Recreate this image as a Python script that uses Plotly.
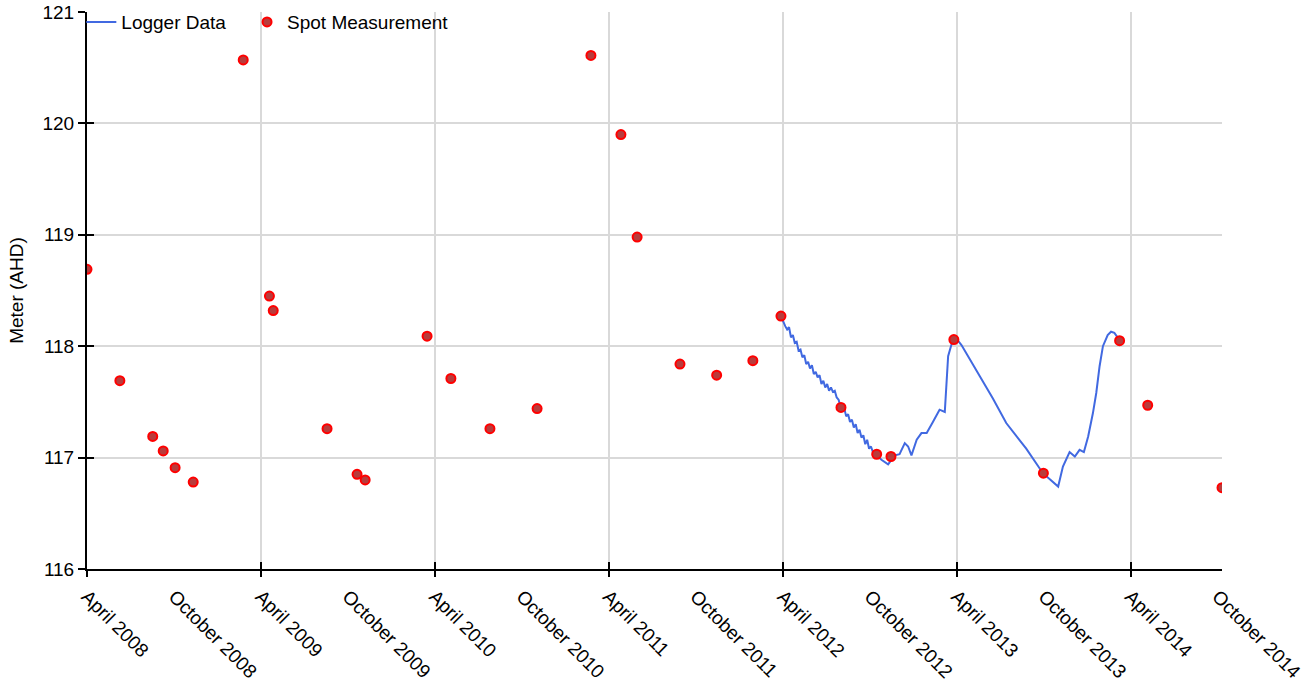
import plotly.graph_objects as go

# ---------------- data ----------------
spot_dates = [
    "2008-04-01", "2008-06-09", "2008-08-17", "2008-09-08", "2008-10-03", "2008-11-10",
    "2009-02-23", "2009-04-19", "2009-04-27", "2009-08-18", "2009-10-20", "2009-11-06",
    "2010-03-16", "2010-05-05", "2010-07-26", "2010-11-02", "2011-02-23", "2011-04-27",
    "2011-05-31", "2011-08-29", "2011-11-14", "2012-01-29", "2012-03-28", "2012-08-01",
    "2012-10-15", "2012-11-14", "2013-03-26", "2013-09-30", "2014-03-09", "2014-05-07",
    "2014-10-10",
]
spot_values = [
    118.69, 117.69, 117.19, 117.06, 116.91, 116.78,
    120.57, 118.45, 118.32, 117.26, 116.85, 116.80,
    118.09, 117.71, 117.26, 117.44, 120.61, 119.90,
    118.98, 117.84, 117.74, 117.87, 118.27, 117.45,
    117.03, 117.01, 118.06, 116.86, 118.05, 117.47,
    116.73,
]

logger_dates = [
    "2012-03-28", "2012-04-02", "2012-04-06", "2012-04-10", "2012-04-14", "2012-04-18",
    "2012-04-22", "2012-04-26", "2012-04-30", "2012-05-04", "2012-05-08", "2012-05-12",
    "2012-05-16", "2012-05-20", "2012-05-24", "2012-05-28", "2012-06-01", "2012-06-05",
    "2012-06-09", "2012-06-13", "2012-06-17", "2012-06-21", "2012-06-25", "2012-06-29",
    "2012-07-03", "2012-07-07", "2012-07-11", "2012-07-15", "2012-07-19", "2012-07-23",
    "2012-07-27", "2012-07-31", "2012-08-04", "2012-08-08", "2012-08-12", "2012-08-16",
    "2012-08-20", "2012-08-24", "2012-08-28", "2012-09-01", "2012-09-05", "2012-09-09",
    "2012-09-13", "2012-09-17", "2012-09-21", "2012-09-25", "2012-09-29", "2012-10-03",
    "2012-10-07", "2012-10-11", "2012-10-15", "2012-10-25", "2012-11-08", "2012-11-22",
    "2012-12-02", "2012-12-13", "2012-12-20", "2012-12-27", "2013-01-07", "2013-01-17",
    "2013-01-28", "2013-02-10", "2013-02-24", "2013-03-07", "2013-03-14", "2013-03-24",
    "2013-03-31", "2013-04-11", "2013-05-12", "2013-06-16", "2013-07-14", "2013-08-25",
    "2013-09-29", "2013-10-31", "2013-11-10", "2013-11-24", "2013-12-05", "2013-12-15",
    "2013-12-24", "2014-01-02", "2014-01-12", "2014-01-19", "2014-01-26", "2014-02-02",
    "2014-02-12", "2014-02-19", "2014-02-26", "2014-03-08",
]
logger_values = [
    118.27, 118.21, 118.18, 118.15, 118.17, 118.08,
    118.10, 118.03, 118.04, 117.96, 117.97, 117.90,
    117.92, 117.84, 117.86, 117.80, 117.83, 117.75,
    117.77, 117.72, 117.74, 117.66, 117.69, 117.63,
    117.66, 117.60, 117.63, 117.59, 117.60, 117.54,
    117.52, 117.46, 117.43, 117.44, 117.37, 117.39,
    117.32, 117.34, 117.27, 117.30, 117.22, 117.25,
    117.18, 117.20, 117.12, 117.16, 117.08, 117.10,
    117.05, 117.03, 117.02, 116.98, 116.94, 117.02,
    117.03, 117.13, 117.10, 117.02, 117.16, 117.22,
    117.22, 117.32, 117.43, 117.41, 117.91, 118.06,
    118.07, 118.01, 117.79, 117.53, 117.31, 117.08,
    116.86, 116.74, 116.92, 117.05, 117.01, 117.07,
    117.05, 117.19, 117.40, 117.58, 117.82, 118.00,
    118.10, 118.13, 118.12, 118.06,
]

tick_dates = [
    "2008-04-01", "2008-10-01", "2009-04-01", "2009-10-01", "2010-04-01", "2010-10-01",
    "2011-04-01", "2011-10-01", "2012-04-01", "2012-10-01", "2013-04-01", "2013-10-01",
    "2014-04-01", "2014-10-01",
]
tick_labels = [
    "April 2008", "October 2008", "April 2009", "October 2009", "April 2010", "October 2010",
    "April 2011", "October 2011", "April 2012", "October 2012", "April 2013", "October 2013",
    "April 2014", "October 2014",
]
april_ticks = [d for d in tick_dates if d[5:7] == "04"]

x_range = ["2008-04-01", "2014-10-10"]
y_range = [116, 121]

# ---------------- figure ----------------
FONT = "Liberation Sans, Arial, sans-serif"
FS = 19
GRID = "#d9d9d9"
fig = go.Figure()

fig.add_trace(go.Scatter(
    x=logger_dates, y=logger_values, mode="lines", name="Logger Data",
    line=dict(color="#4169E1", width=2), legend="legend",
))
fig.add_trace(go.Scatter(
    x=spot_dates, y=spot_values, mode="markers", name="Spot Measurement",
    marker=dict(color="#b83c3c", size=9, line=dict(color="#ff0000", width=2)),
    legend="legend2",
))
# helper traces for overlay axes (ticks/grid only)
for xa, ya in [("x2", "y"), ("x3", "y"), ("x", "y2")]:
    fig.add_trace(go.Scatter(x=[None], y=[None], xaxis=xa, yaxis=ya,
                             showlegend=False, hoverinfo="skip"))

leg_common = dict(orientation="h", y=0.982, xanchor="left", yanchor="middle",
                  bgcolor="rgba(0,0,0,0)", font=dict(size=FS))

fig.update_layout(
    width=1312, height=681,
    margin=dict(l=87, r=90, t=12, b=112, autoexpand=False),
    paper_bgcolor="white", plot_bgcolor="white",
    font=dict(family=FONT, size=FS, color="black"),
    showlegend=True,
    legend=dict(x=-0.005, **leg_common),
    legend2=dict(x=0.141, **leg_common),
    xaxis=dict(
        type="date", range=x_range, tickmode="array", tickvals=tick_dates,
        ticktext=tick_labels, tickangle=45, ticks="outside", ticklen=7,
        tickcolor="rgba(0,0,0,0)", showgrid=False, zeroline=False,
        showline=True, linecolor="black", linewidth=2, anchor="y",
        tickfont=dict(size=FS, color="black"), automargin=False,
    ),
    xaxis2=dict(
        type="date", range=x_range, overlaying="x", anchor="y", side="bottom",
        tickmode="array", tickvals=april_ticks, ticks="outside", ticklen=7,
        tickwidth=2, tickcolor="black", showticklabels=False, automargin=False,
        showgrid=True, gridcolor=GRID, gridwidth=2, showline=False, zeroline=False,
    ),
    xaxis3=dict(
        type="date", range=x_range, overlaying="x", anchor="y", side="bottom",
        tickmode="array", tickvals=april_ticks, ticks="inside", ticklen=7,
        tickwidth=2, tickcolor="black", showticklabels=False, automargin=False,
        showgrid=False, showline=False, zeroline=False,
    ),
    yaxis=dict(
        range=y_range, dtick=1, tick0=116, ticks="outside", ticklen=7, tickwidth=2,
        tickcolor="black", showgrid=True, gridcolor=GRID, gridwidth=2,
        showline=True, linecolor="black", linewidth=2, zeroline=False,
        title=dict(text="Meter (AHD)", font=dict(size=FS), standoff=14),
        tickfont=dict(size=FS, color="black"), anchor="x", automargin=False,
    ),
    yaxis2=dict(
        range=y_range, dtick=1, tick0=116, overlaying="y", anchor="x", side="left",
        ticks="inside", ticklen=7, tickwidth=2, tickcolor="black", automargin=False,
        showticklabels=False, showgrid=False, showline=False, zeroline=False,
    ),
)

fig.write_html("out.html")
